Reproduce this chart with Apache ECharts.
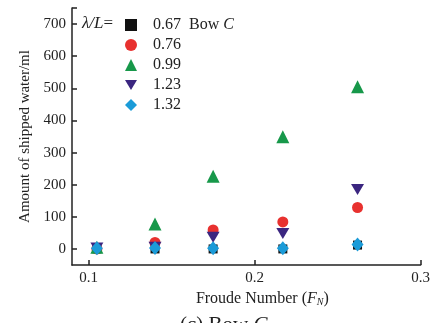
<!DOCTYPE html>
<html>
<head>
<meta charset="utf-8">
<script src="https://cdn.jsdelivr.net/npm/echarts@6/dist/echarts.min.js"></script>
<style>html,body{margin:0;padding:0;background:#fff}#c{width:433px;height:323px}</style>
</head>
<body>
<div id="c"></div>
<script>
var froude = [0.105, 0.14, 0.175, 0.217, 0.262];
var ratios = ['0.67', '0.76', '0.99', '1.23', '1.32'];
var water067 = [0, 0, 0, 0, 12];
var water076 = [0, 20, 59, 84, 129];
var water099 = [5, 78, 226, 349, 505];
var water123 = [3, 5, 36, 48, 185];
var water132 = [2, 3, 2, 2, 14];
var yTickLabels = [0, 100, 200, 300, 400, 500, 600, 700];
var xTickLabels = [0.1, 0.2, 0.3];

var F = 'Liberation Serif';
function pts(v){ return froude.map(function(x,i){ return [x, v[i]]; }); }
var styles = [
  {sym:'rect', size:9, color:'#111111'},
  {sym:'circle', size:11, color:'#e8312f'},
  {sym:'triangle', size:13, color:'#17984a'},
  {sym:'path://M0,0 L2,0 L1,1.7 Z', size:[13,11], color:'#3b2680'},
  {sym:'diamond', size:[12,14], color:'#1b9bd8'}
];
var values = [water067, water076, water099, water123, water132];
var series = ratios.map(function(name,i){
  return {type:'scatter', name:name, data:pts(values[i]), symbol:styles[i].sym,
    symbolSize:styles[i].size, itemStyle:{color:styles[i].color, opacity:1}, z:2+i};
});
var axisColor = '#222';
var chart = echarts.init(document.getElementById('c'), null, {renderer:'canvas'});
chart.setOption({
  animation:false,
  grid:{left:72, right:12, top:8, bottom:58},
  title:[
    {text:'{i|λ/L}=', left:77, top:10, textStyle:{fontFamily:F, fontSize:17, fontWeight:'normal', color:'#222',
      rich:{i:{fontFamily:F, fontSize:17, fontStyle:'italic', color:'#222'}}}},
    {text:'(c) Bow {i|C}', left:175, top:310, textStyle:{fontFamily:F, fontSize:21, fontWeight:'normal', color:'#222',
      rich:{i:{fontFamily:F, fontSize:21, fontStyle:'italic', color:'#222'}}}}
  ],
  legend:{
    orient:'vertical', left:120, top:10, itemWidth:12, itemHeight:12, itemGap:0,
    data:ratios,
    formatter:function(n){ return n==='0.67' ? n+'  Bow {i|C}' : n; },
    textStyle:{fontFamily:F, fontSize:16, color:'#222', lineHeight:20, padding:[0,0,0,11],
      rich:{i:{fontFamily:F, fontSize:16, fontStyle:'italic', color:'#222', lineHeight:20}}}
  },
  xAxis:{
    type:'value', min:0.09, max:0.3,
    name:'Froude Number ({i|F}{s|N})', nameLocation:'middle', nameGap:20,
    nameTextStyle:{fontFamily:F, fontSize:16, color:'#222', padding:[0,0,0,32],
      rich:{i:{fontFamily:F, fontSize:16, fontStyle:'italic', color:'#222'},
            s:{fontFamily:F, fontSize:10, fontStyle:'italic', color:'#222', padding:[7,0,0,0]}}},
    axisLine:{show:true, onZero:false, lineStyle:{color:axisColor, width:1.5}},
    axisTick:{show:true, inside:true, length:5, customValues:xTickLabels, lineStyle:{color:axisColor, width:1.5}},
    axisLabel:{customValues:xTickLabels, fontFamily:F, fontSize:15, color:'#222', margin:6,
      formatter:function(v){ return v.toFixed(1); }},
    splitLine:{show:false}
  },
  yAxis:{
    type:'value', min:-50, max:750,
    name:'Amount of shipped water/ml', nameLocation:'middle', nameGap:37,
    nameTextStyle:{fontFamily:F, fontSize:15, color:'#222'},
    axisLine:{show:true, onZero:false, lineStyle:{color:axisColor, width:1.5}},
    axisTick:{show:true, inside:true, length:5, customValues:yTickLabels.concat([750]), lineStyle:{color:axisColor, width:1.5}},
    axisLabel:{customValues:yTickLabels, fontFamily:F, fontSize:15, color:'#222', margin:6},
    splitLine:{show:false}
  },
  series:series
});
</script>
</body>
</html>
